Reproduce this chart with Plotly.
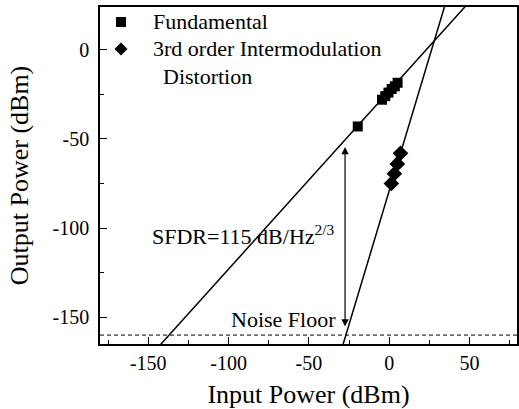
import plotly.graph_objects as go

# Measured data
fund_x = [-19.6, -4.5, -2.5, -0.5, 1.5, 3.5, 5.2]
fund_y = [-43.0, -28.0, -26.0, -24.0, -22.0, -20.5, -18.5]
imd_x = [1.3, 3.2, 5.0, 7.0]
imd_y = [-75.0, -69.5, -64.0, -58.0]

# Linear fits (endpoints)
fund_fit_x = [-145.0, 50.0]
fund_fit_y = [-168.0, 27.0]
imd_fit_x = [-30.0, 36.0]
imd_fit_y = [-169.0, 29.0]

noise_floor = -160
sfdr_x = -27.5
sfdr_top = -54.5
sfdr_bottom = -156.0

x_range = [-180, 79.5]
y_range = [-165, 24]
x_ticks = [-150, -100, -50, 0, 50]
x_ticktext = ["-150", "-100", "-50", "0", "50"]
y_ticks = [-150, -100, -50, 0]
y_ticktext = ["-150", "-100", "-50", "0"]

legend_names = ["Fundamental", "3rd order Intermodulation"]
legend_extra = "Distortion"

FONT = "Liberation Serif"

fig = go.Figure()
fig.add_trace(go.Scatter(x=fund_fit_x, y=fund_fit_y, mode="lines",
                         line=dict(color="black", width=1.5), showlegend=False))
fig.add_trace(go.Scatter(x=imd_fit_x, y=imd_fit_y, mode="lines",
                         line=dict(color="black", width=1.5), showlegend=False))
fig.add_trace(go.Scatter(x=fund_x, y=fund_y, mode="markers", name=legend_names[0], showlegend=False,
                         marker=dict(symbol="square", size=10, color="black")))
fig.add_trace(go.Scatter(x=imd_x, y=imd_y, mode="markers", name=legend_names[1], showlegend=False,
                         marker=dict(symbol="diamond", size=12, color="black")))

fig.add_shape(type="line", xref="paper", yref="y", x0=0, x1=1, y0=noise_floor, y1=noise_floor,
              line=dict(color="black", width=1, dash="4px,3px"))

# Legend drawn manually (symbols in pixel size, anchored in paper coords)
fig.add_shape(type="rect", xref="paper", yref="paper", xsizemode="pixel", ysizemode="pixel",
              xanchor=0.0504, yanchor=0.9555, x0=-5, x1=5, y0=-5, y1=5,
              fillcolor="black", line=dict(width=0))
fig.add_shape(type="path", xref="paper", yref="paper", xsizemode="pixel", ysizemode="pixel",
              xanchor=0.0504, yanchor=0.8754, path="M -6.5 0 L 0 6.5 L 6.5 0 L 0 -6.5 Z",
              fillcolor="black", line=dict(width=0))
for txt, lx, ly in [(legend_names[0], 0.122, 0.9555), (legend_names[1], 0.122, 0.8754),
                    (legend_extra, 0.146, 0.7923)]:
    fig.add_annotation(x=lx, y=ly, xref="paper", yref="paper", xanchor="left", yanchor="middle",
                       showarrow=False, text=txt, font=dict(family=FONT, size=22, color="black"))

fig.add_annotation(x=sfdr_x, y=sfdr_top, ax=sfdr_x, ay=sfdr_bottom, xref="x", yref="y",
                   axref="x", ayref="y", showarrow=True, arrowhead=2, arrowside="end+start",
                   arrowsize=1.2, arrowwidth=1.2, arrowcolor="black", text="")
fig.add_annotation(x=-91, y=-104, xref="x", yref="y", showarrow=False,
                   text="SFDR=115 dB/Hz<sup>2/3</sup>", font=dict(family=FONT, size=22, color="black"))
fig.add_annotation(x=-65.5, y=-151, xref="x", yref="y", showarrow=False,
                   text="Noise Floor", font=dict(family=FONT, size=22, color="black"))

axis_common = dict(showgrid=False, zeroline=False, showline=True, linecolor="black",
                   linewidth=1.5, mirror=True, ticks="inside", ticklen=7, tickwidth=1.2,
                   tickcolor="black", automargin=False,
                   tickfont=dict(family=FONT, size=20, color="black"))

fig.update_xaxes(range=x_range, tickvals=x_ticks, ticktext=x_ticktext,
                 minor=dict(dtick=25, ticks="inside", ticklen=4, tickcolor="black", tickwidth=1.2),
                 title=dict(text="Input Power (dBm)", font=dict(family=FONT, size=26, color="black"),
                            standoff=12), **axis_common)
fig.update_yaxes(range=y_range, tickvals=y_ticks, ticktext=y_ticktext, ticklabelstandoff=5,
                 minor=dict(dtick=25, ticks="inside", ticklen=4, tickcolor="black", tickwidth=1.2),
                 title=dict(text="Output Power (dBm)", font=dict(family=FONT, size=26, color="black"),
                            standoff=16), **axis_common)

fig.update_layout(width=519, height=409, margin=dict(l=100, r=2, t=7, b=65),
                  plot_bgcolor="white", paper_bgcolor="white",
                  font=dict(family=FONT, color="black"), showlegend=False)

fig.write_html("out.html", config={"displayModeBar": False},
               post_script="document.body.style.margin='0';document.body.style.padding='0';"
                           "document.body.style.overflow='hidden';")
